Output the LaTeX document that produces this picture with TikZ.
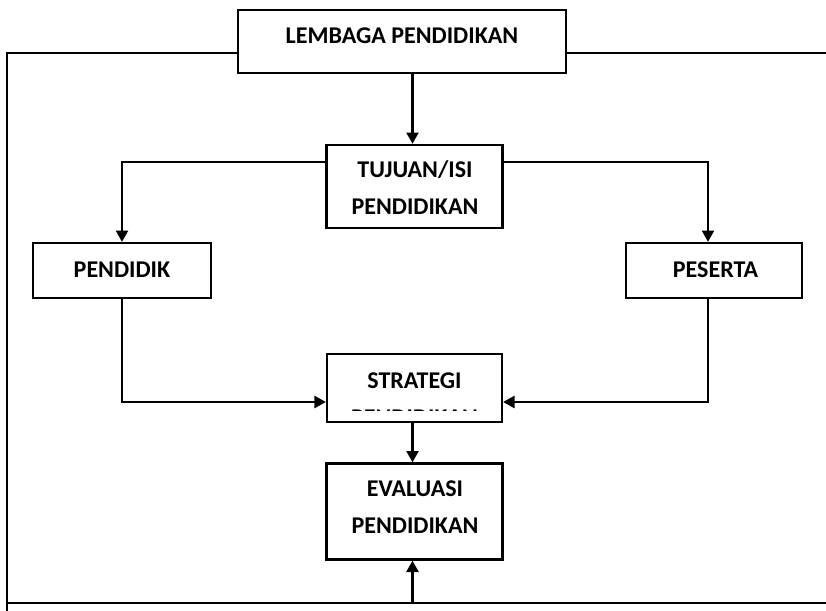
\documentclass[tikz,border=0pt]{standalone}
\usepackage{fontspec}
\setmainfont{Carlito}
\usepackage{tikz}
\usetikzlibrary{arrows.meta,calc}

\tikzset{
    box/.style={draw, line width=0.7mm, rectangle, inner sep=0},
    txt/.style={font=\bfseries\fontsize{20.5}{31.5}\selectfont, align=center, inner sep=0},
    conn/.style={line width=0.7mm},
    arr/.style={conn, -{Triangle[length=3.4mm,width=3.6mm]}},
    frame/.style={line width=0.5mm}
}

\begin{document}
\begin{tikzpicture}[x=0.03cm, y=-0.03cm]
        \useasboundingbox (0, 0) rectangle (826, 611);
        % boxes
        \node [box, minimum width=9.84cm, minimum height=1.89cm] (lembaga) at (402, 41.5) {};
        \node [box, minimum width=5.28cm, minimum height=2.49cm] (tujuan) at (414.5, 186.5) {};
        \node [box, minimum width=5.34cm, minimum height=1.65cm] (pendidik) at (122, 270.5) {};
        \node [box, minimum width=5.28cm, minimum height=1.65cm] (peserta) at (714, 270.5) {};
        \node [box, minimum width=5.25cm, minimum height=2.04cm] (strategi) at (414.5, 388) {};
        \node [box, minimum width=5.28cm, minimum height=2.88cm] (evaluasi) at (414.5, 511.5) {};
        % texts
        \node [txt] (lembagatext) at (402, 35.5) {LEMBAGA PENDIDIKAN};
        \node [txt] (tujuantext) at (415, 188) {TUJUAN/ISI\\PENDIDIKAN};
        \node [txt] (pendidiktext) at (122, 269.5) {PENDIDIK};
        \node [txt] (pesertatext) at (715.5, 269.5) {PESERTA};
        \begin{scope}
            \clip (strategi.north west) rectangle ($(strategi.south east)+(0,-13)$);
            \node [txt] (strategitext) at (414.5, 399) {STRATEGI\\PENDIDIKAN};
        \end{scope}
        \node [txt] (evaluasitext) at (415, 507) {EVALUASI\\PENDIDIKAN};
        % outer frame
        \draw [frame] (lembaga.west |- 0,53) -- (7, 53) -- (7, 611);
        \draw [frame] (lembaga.east |- 0,53) -- (826, 53);
        \draw [frame] (7, 603) -- (826, 603);
        % connectors
        \coordinate (axis) at (412.5, 603);
        \draw [arr] (axis |- lembaga.south) -- (axis |- tujuan.north);
        \draw [arr] ($(tujuan.north west)+(0,18)$) -| (pendidik.north);
        \draw [arr] ($(tujuan.north east)+(0,18)$) -| ($(peserta.north)+(-6,0)$);
        \draw [arr] (pendidik.south) |- ($(strategi.west)+(0,14)$);
        \draw [arr] ($(peserta.south)+(-6,0)$) |- ($(strategi.east)+(0,14)$);
        \draw [arr] (axis |- strategi.south) -- (axis |- evaluasi.north);
        \draw [arr] (axis) -- (axis |- evaluasi.south);
    \end{tikzpicture}
\end{document}
